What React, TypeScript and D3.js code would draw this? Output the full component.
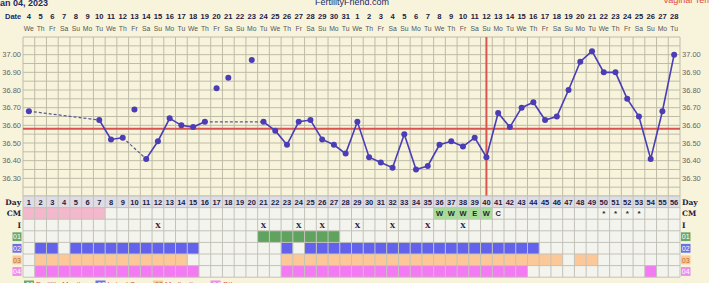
import React from 'react';
import * as d3 from 'd3';

const dateLabels = ['4','5','6','7','8','9','10','11','12','13','14','15','16','17','18','19','20','21','22','23','24','25','26','27','28','29','30','31',
  '1','2','3','4','5','6','7','8','9','10','11','12','13','14','15','16','17','18','19','20','21','22','23','24','25','26','27','28'];
const weekdayCycle = ['We','Th','Fr','Sa','Su','Mo','Tu'];
const tempTicks = [37.0, 36.9, 36.8, 36.7, 36.6, 36.5, 36.4, 36.3];

const temps: (number | null)[] = [
  36.68, null, null, null, null, null, 36.63, 36.52, 36.53, 36.69,
  36.41, 36.51, 36.64, 36.60, 36.59, 36.62, 36.81, 36.87, null, 36.97,
  36.62, 36.57, 36.49, 36.62, 36.63, 36.52, 36.49, 36.44, 36.62, 36.42,
  36.39, 36.36, 36.55, 36.35, 36.37, 36.49, 36.51, 36.48, 36.53, 36.42,
  36.67, 36.59, 36.70, 36.73, 36.63, 36.65, 36.80, 36.96, 37.02, 36.90,
  36.90, 36.75, 36.65, 36.41, 36.68, 37.00,
];
const discardedDays = [10, 17, 18, 20];
const coverline = 36.58;
const ovulationDay = 40;

const cmPinkDays = [1, 2, 3, 4, 5, 6, 7];
const cmGreenDays = [36, 37, 38, 39, 40];
const cmText: [number, string][] = [[36,'W'],[37,'W'],[38,'W'],[39,'E'],[40,'W'],[41,'C'],[50,'*'],[51,'*'],[52,'*'],[53,'*']];
const intercourseDays = [12, 21, 24, 26, 29, 32, 35, 38];
const row01Days = [21, 22, 23, 24, 25, 26, 27];
const row02Days = [2, 3, 5, 6, 7, 8, 9, 10, 11, 12, 13, 14, 15, 23, 25, 26, 27, 28, 29, 30, 31, 32, 33, 34, 35, 36, 37, 38, 39, 40, 41, 42, 43, 44];
const row03Days = [2, 3, 4, 5, 6, 7, 8, 9, 10, 11, 12, 13, 14, 23, 24, 25, 26, 27, 28, 29, 30, 31, 32, 33, 34, 35, 36, 37, 38, 39, 40, 41, 42, 43, 44, 45, 46, 48, 49];
const row04Days = [2, 3, 4, 5, 6, 7, 8, 9, 10, 11, 12, 13, 14, 15, 23, 24, 25, 26, 27, 28, 29, 30, 31, 32, 33, 34, 35, 36, 37, 38, 39, 40, 41, 42, 43, 54];
const legendItems = ['Fertility Monitor', 'Luteal Support', 'Medication', 'Other'];

const W = 709, H = 283;
const days = d3.range(1, 57);
const FONT = 'Liberation Sans, Arial, sans-serif';

export default function App() {
  const x = d3.scaleBand<number>().domain(days).range([23, 680]).padding(0);
  const cw = x.bandwidth();
  const cx = (d: number) => (x(d) as number) + cw / 2;
  const y = d3.scaleLinear().domain([36.2, 37.1]).range([196, 37]);
  const hLines = d3.range(0, 19).map(i => 36.2 + i * 0.05);

  const tableTop = 196;
  const rh = 11.6;
  const rowY = (r: number) => tableTop + r * rh;

  const included = days.filter(d => temps[d - 1] != null && !discardedDays.includes(d));
  const segs: { a: number; b: number; dashed: boolean }[] = [];
  for (let i = 1; i < included.length; i++) {
    const a = included[i - 1], b = included[i];
    segs.push({ a, b, dashed: b - a > 1 });
  }
  const line = d3.line<number>().x(d => cx(d)).y(d => y(temps[d - 1] as number));
  const solidRuns: number[][] = [];
  let cur: number[] = [];
  included.forEach((d, i) => {
    if (i === 0 || d - included[i - 1] > 1) {
      if (cur.length) solidRuns.push(cur);
      cur = [d];
    } else cur.push(d);
  });
  if (cur.length) solidRuns.push(cur);

  const rowBoxes: { label: string; fill: string; text: string }[] = [
    { label: '01', fill: '#6aa96a', text: '#ffffff' },
    { label: '02', fill: '#6f6fe6', text: '#ffffff' },
    { label: '03', fill: '#fcc898', text: '#b86a2a' },
    { label: '04', fill: '#ee8cee', text: '#ffffff' },
  ];
  const rowData = [row01Days, row02Days, row03Days, row04Days];
  const rowColors = ['#5fa35f', '#6262ec', '#fcc898', '#f47af4'];
  const gridColor = '#bebba7';

  return (
    <svg width={W} height={H} style={{ position: 'absolute', left: 0, top: 0, background: '#f8f4dc' }} fontFamily={FONT}>
      <rect x={0} y={0} width={W} height={H} fill="#f8f4dc" />
      <text x={-5} y={6} fontSize={9} fontWeight="bold" fill="#1e2a66">Jan 04, 2023</text>
      <text x={352} y={5} fontSize={9} textAnchor="middle" fill="#1e2a66">FertilityFriend.com</text>
      <text x={663} y={3} fontSize={9} fill="#e04848">Vaginal Temp</text>
      <text x={5} y={19} fontSize={7.5} fontWeight="bold" fill="#1e2a66">Date</text>
      {days.map(d => (
        <g key={'h' + d}>
          <text x={cx(d)} y={19} fontSize={7.6} fontWeight="bold" textAnchor="middle" fill="#1e2040">{dateLabels[d - 1]}</text>
          <text x={cx(d)} y={31} fontSize={6.8} textAnchor="middle" fill="#555">{weekdayCycle[(d - 1) % 7]}</text>
        </g>
      ))}
      {hLines.map((t, i) => (
        <line key={'hl' + i} x1={23} x2={680} y1={y(t)} y2={y(t)} stroke={gridColor} strokeWidth={1} />
      ))}
      {d3.range(0, 57).map(i => (
        <line key={'vl' + i} x1={23 + i * cw} x2={23 + i * cw} y1={37} y2={196} stroke={gridColor} strokeWidth={1} />
      ))}
      {tempTicks.map(t => (
        <g key={'tk' + t}>
          <text x={21} y={y(t) + 2.6} fontSize={7.5} textAnchor="end" fill="#666">{t.toFixed(2)}</text>
          <text x={682} y={y(t) + 2.6} fontSize={7.5} fill="#666">{t.toFixed(2)}</text>
        </g>
      ))}
      <line x1={23} x2={680} y1={y(coverline)} y2={y(coverline)} stroke="#d9534f" strokeWidth={2} />
      <line x1={cx(ovulationDay)} x2={cx(ovulationDay)} y1={37} y2={196} stroke="#d9534f" strokeWidth={2} />
      {segs.filter(s => s.dashed).map((s, i) => (
        <line key={'ds' + i} x1={cx(s.a)} y1={y(temps[s.a - 1] as number)} x2={cx(s.b)} y2={y(temps[s.b - 1] as number)}
          stroke="#5a5a90" strokeWidth={1.2} strokeDasharray="3,2" />
      ))}
      {solidRuns.filter(r => r.length > 1).map((r, i) => (
        <path key={'sr' + i} d={line(r) as string} fill="none" stroke="#4a3db5" strokeWidth={1.6} />
      ))}
      {days.filter(d => temps[d - 1] != null).map(d => (
        <circle key={'pt' + d} cx={cx(d)} cy={y(temps[d - 1] as number)} r={3} fill="#4a3db5" />
      ))}
      <rect x={23} y={rowY(1)} width={657} height={rh * 6} fill="#f4f4ee" />
      <rect x={23} y={rowY(0)} width={657} height={rh} fill="#dedde6" />
      {cmPinkDays.map(d => <rect key={'cp' + d} x={x(d)} y={rowY(1)} width={cw} height={rh} fill="#f4b8cc" />)}
      {cmGreenDays.map(d => <rect key={'cg' + d} x={x(d)} y={rowY(1)} width={cw} height={rh} fill="#a6de98" />)}
      {rowData.map((arr, r) => arr.map(d => (
        <rect key={'rd' + r + '-' + d} x={x(d)} y={rowY(3 + r)} width={cw} height={rh} fill={rowColors[r]} />
      )))}
      {d3.range(0, 8).map(i => (
        <line key={'th' + i} x1={23} x2={680} y1={rowY(i)} y2={rowY(i)} stroke="#c2c2b9" strokeWidth={1} />
      ))}
      {d3.range(0, 57).map(i => (
        <line key={'tv' + i} x1={23 + i * cw} x2={23 + i * cw} y1={rowY(0)} y2={rowY(7)} stroke="#c2c2b9" strokeWidth={1} />
      ))}
      {days.map(d => (
        <text key={'dn' + d} x={cx(d)} y={rowY(0) + 8.6} fontSize={7.5} fontWeight="bold" textAnchor="middle" fill="#1e2040">{d}</text>
      ))}
      {cmText.map(([d, t]) => (
        <text key={'ct' + d} x={cx(d)} y={rowY(1) + 8.8} fontSize={t === '*' ? 8 : 7.5} fontWeight="bold" textAnchor="middle" fill="#1e2a30">{t}</text>
      ))}
      {intercourseDays.map(d => (
        <text key={'ix' + d} x={cx(d)} y={rowY(2) + 8.5} fontSize={7} fontWeight="bold" textAnchor="middle" fill="#1e2040" fontFamily="DejaVu Serif, serif">X</text>
      ))}
      {['Day', 'CM', 'I'].map((l, i) => (
        <g key={'rl' + l}>
          <text x={21} y={rowY(i) + 8.6} fontSize={7.5} fontWeight="bold" textAnchor="end" fill="#1e2040" fontFamily="DejaVu Serif, serif">{l}</text>
          <text x={682} y={rowY(i) + 8.6} fontSize={7.5} fontWeight="bold" fill="#1e2040" fontFamily="DejaVu Serif, serif">{l}</text>
        </g>
      ))}
      {rowBoxes.map((b, i) => (
        <g key={'rb' + b.label}>
          <rect x={12.5} y={rowY(3 + i) + 1.5} width={9} height={8.8} fill={b.fill} />
          <text x={17} y={rowY(3 + i) + 8.5} fontSize={7} textAnchor="middle" fill={b.text}>{b.label}</text>
          <rect x={681} y={rowY(3 + i) + 1.5} width={9.5} height={8.8} fill={b.fill} />
          <text x={685.7} y={rowY(3 + i) + 8.5} fontSize={7} textAnchor="middle" fill={b.text}>{b.label}</text>
        </g>
      ))}
      {legendItems.map((l, i) => (
        <g key={'lg' + i}>
          <rect x={24 + i * 57.5 + (i > 0 ? 14 : 0)} y={280.5} width={10} height={9} fill={rowBoxes[i].fill} />
          <text x={24 + i * 57.5 + (i > 0 ? 14 : 0) + 2} y={287} fontSize={7} fill={rowBoxes[i].text}>{rowBoxes[i].label}</text>
          <text x={36 + i * 57.5 + (i > 0 ? 14 : 0)} y={286.5} fontSize={7.5} fill="#e04848">{l}</text>
        </g>
      ))}
    </svg>
  );
}
